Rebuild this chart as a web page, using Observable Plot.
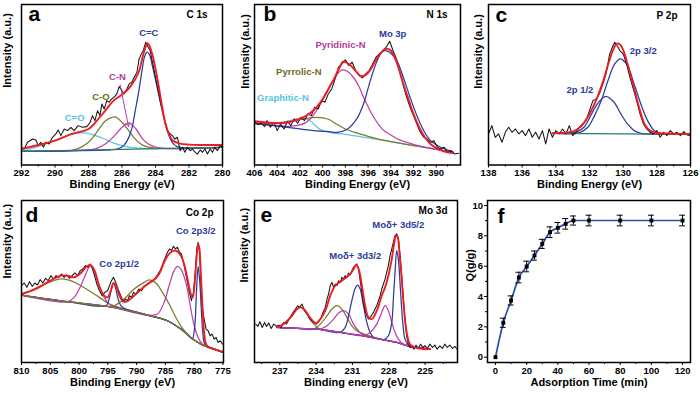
<!DOCTYPE html>
<html><head><meta charset="utf-8">
<script src="https://cdn.jsdelivr.net/npm/d3@7"></script>
<script src="https://cdn.jsdelivr.net/npm/@observablehq/plot@0.6"></script>
<style>
body{margin:0;background:#fff}
#root{position:relative;width:700px;height:395px;overflow:hidden;background:#fff}
#root svg{position:absolute}
</style></head><body><div id="root"></div>
<script>
// ---------------- Panel a: C 1s ----------------
const aRaw = [[292.00,53],[291.84,48],[291.64,68],[291.34,78],[291.14,75],[291.00,58],[290.85,68],[290.69,53],[290.55,68],[290.35,63],[290.15,83],[289.95,93],[289.81,105],[289.65,88],[289.45,108],[289.25,103],[289.05,113],[288.86,103],[288.62,118],[288.36,113],[288.10,115],[287.90,128],[287.76,148],[287.62,133],[287.46,163],[287.32,148],[287.20,183],[287.06,168],[286.91,193],[286.77,188],[286.61,198],[286.47,203],[286.31,213],[286.17,235],[286.03,225],[285.87,213],[285.71,228],[285.57,243],[285.41,248],[285.27,263],[285.11,278],[284.98,318],[284.84,333],[284.72,345],[284.58,368],[284.44,353],[284.32,343],[284.18,308],[284.04,273],[283.88,233],[283.72,193],[283.58,163],[283.44,133],[283.28,103],[283.12,93],[282.99,88],[282.85,78],[282.69,83],[282.53,43],[282.39,53],[282.25,38],[282.09,53],[281.93,43],[281.79,48],[281.63,38],[281.49,33],[281.33,45],[281.19,38],[281.05,48],[280.90,33],[280.74,48],[280.60,38],[280.46,53],[280.30,43],[280.14,58],[280.00,53]];
const aFit = [[292,48],[291,60],[290,73],[289,93],[288,108],[287.5,133],[287,163],[286.5,193],[286,211],[285.5,235],[285,278],[284.8,318],[284.6,353],[284.5,365],[284.4,361],[284.2,333],[284,288],[283.8,233],[283.6,173],[283.4,123],[283.2,93],[283,75],[282.6,65],[282,61],[281,60],[280,60]];
const aBase = [[292,41],[280,53]];
const aCdO = [[291.5,48],[291,56],[290.5,65],[290,74],[289.5,84],[289,92],[288.4,96],[287.8,92],[287.2,81],[286.6,68],[286,58],[285.4,52],[284.8,50],[284,49],[283,50]];
const aCO = [[289,44],[288.5,52],[288,68],[287.6,92],[287.3,113],[287,132],[286.6,143],[286.4,144],[286,128],[285.6,103],[285.3,83],[285,68],[284.7,58],[284.1,51]];
const aCN = [[288,45],[287.5,50],[287,63],[286.5,85],[286,113],[285.6,126],[285.2,110],[284.8,80],[284.4,62],[284,54],[283.5,50]];
const aCC = [[286.6,46],[286.2,49],[285.9,58],[285.6,82],[285.4,112],[285.2,165],[285,220],[284.8,285],[284.65,325],[284.5,338],[284.35,330],[284.2,300],[283.9,233],[283.6,163],[283.3,103],[283,68],[282.7,55],[282.3,52]];
const aTicks = [292,290,288,286,284,282,280];
const aMinor = [291,289,287,285,283,281];
const aLabelText = ["C=C","C-N","C-O","C=O"];
const aLabelX = [284.4,286.27,287.26,288.82];
const aLabelY = [388,255,196,133];
const aArrow = [{x1:286.11,y1:240,x2:285.61,y2:115}];

// ---------------- Panel b: N 1s ----------------
const bRaw = [[406,128],[405.7,121],[405.4,125],[405.1,115],[404.9,133],[404.6,113],[404.3,128],[404,103],[403.7,123],[403.4,108],[403.1,131],[402.8,118],[402.5,138],[402.2,125],[401.9,143],[401.6,133],[401.3,153],[401,148],[400.7,173],[400.4,168],[400.1,193],[399.8,188],[399.5,213],[399.2,228],[398.9,258],[398.6,293],[398.3,303],[398,315],[397.7,298],[397.4,308],[397.1,283],[396.8,268],[396.5,261],[396.2,273],[395.9,283],[395.6,303],[395.3,323],[395,333],[394.7,343],[394.4,353],[394.1,371],[393.8,343],[393.5,318],[393.2,278],[392.9,238],[392.6,203],[392.3,173],[392,148],[391.7,123],[391.4,98],[391.1,83],[390.8,78],[390.5,68],[390.2,73],[389.9,53],[389.6,48],[389.3,53],[389,38],[388.7,43],[388.4,33],[388,35]];
const bFit = [[406,131],[404,125],[403,128],[402,138],[401,158],[400.5,175],[400,198],[399.5,228],[399,258],[398.5,293],[398.2,310],[397.9,307],[397.5,297],[397,278],[396.6,266],[396.2,270],[395.8,285],[395.4,310],[395,330],[394.6,345],[394.3,348],[394,343],[393.6,318],[393.2,278],[392.8,233],[392.4,193],[392,153],[391.5,113],[391,83],[390.5,63],[390,51],[389.5,43],[389,38],[388.6,36]];
const bBase = [[406,125],[402,108],[398,92],[394,70],[390,47],[388.5,38]];
const bGraphitic = [[406,127],[404,126],[403,132],[402.3,139],[401.8,141],[401.2,135],[400.6,117],[400.2,106],[399.6,99],[399,95]];
const bPyrrolic = [[406,125],[403.5,128],[402.5,133],[401.5,139],[400.5,143],[399.5,137],[398.8,123],[398,108],[397,96],[396,86],[395,77]];
const bPyridinic = [[403,116],[402,120],[401.5,127],[401.1,138],[400.6,160],[400.2,183],[399.7,212],[399.3,238],[398.8,268],[398.4,283],[398.2,285],[397.8,280],[397.3,263],[396.8,235],[396.4,203],[395.9,168],[395.5,143],[395,118],[394.6,103],[394,90],[393.4,78],[392.5,67],[391.5,57]];
const bMo3p = [[400,101],[399.6,101],[398.7,98],[397.8,108],[397,138],[396.4,183],[395.8,253],[395.2,313],[394.8,338],[394.5,343],[394.1,338],[393.4,308],[392.9,263],[392.3,203],[391.7,148],[391.1,103],[390.5,73],[389.6,53],[388.8,43]];
const bTicks = [406,404,402,400,398,396,394,392,390];
const bMinor = [405,403,401,399,397,395,393,391,389];
const bLabelText = ["Mo 3p","Pyridinic-N","Pyrrolic-N","Graphitic-N"];
const bLabelX = [393.83,398.43,402.1,403.5];
const bLabelY = [385,351,271,191];

// ---------------- Panel c: P 2p ----------------
const cRaw = [[138,93],[137.8,118],[137.6,83],[137.4,93],[137.2,68],[137,98],[136.8,113],[136.6,98],[136.4,108],[136.2,93],[136,103],[135.8,88],[135.6,108],[135.4,83],[135.2,98],[135,78],[134.8,103],[134.6,63],[134.4,108],[134.2,83],[134,103],[133.8,93],[133.6,108],[133.4,93],[133.2,118],[133,88],[132.8,98],[132.6,113],[132.4,123],[132.2,133],[132,163],[131.8,193],[131.6,198],[131.4,215],[131.2,243],[131,278],[130.8,333],[130.6,358],[130.5,368],[130.3,353],[130.2,343],[130,333],[129.8,303],[129.6,263],[129.4,228],[129.2,193],[129,153],[128.8,123],[128.6,108],[128.4,98],[128.2,93],[128,103],[127.8,83],[127.6,98],[127.4,88],[127.2,103],[127,93],[126.8,98],[126.6,88],[126.4,100],[126.2,90],[126,88]];
const cFit = [[134.2,95],[133.5,97],[133,100],[132.5,116],[132,153],[131.6,195],[131.2,250],[130.9,300],[130.6,345],[130.4,363],[130.2,362],[130,345],[129.8,313],[129.6,278],[129.3,220],[129,163],[128.7,120],[128.4,103],[128,96],[127,94],[126,93]];
const cBase = [[134.2,95],[126,92]];
const c2p12 = [[133.2,96],[132.73,100],[132.33,113],[131.93,148],[131.53,183],[131.03,206],[130.54,188],[130.14,153],[129.74,123],[129.34,103],[128.95,95],[128.4,93]];
const c2p32 = [[132.6,97],[132.1,113],[131.7,148],[131.3,193],[130.9,253],[130.5,303],[130.15,318],[129.75,298],[129.35,243],[128.95,183],[128.55,133],[128.15,103],[127.75,95],[127.2,93]];
const cTicks = [138,136,134,132,130,128,126];
const cMinor = [137,135,133,131,129,127];
const cLabelText = ["2p 3/2","2p 1/2"];
const cLabelX = [128.81,132.57];
const cLabelY = [333,215];

// ---------------- Panel d: Co 2p ----------------
const dRaw = [[810,230],[809.54,238],[809.07,225],[808.61,242],[808.15,228],[807.68,238],[807.22,232],[806.76,248],[806.29,238],[805.83,252],[805.37,245],[804.9,260],[804.44,250],[803.98,260],[803.51,255],[803.05,265],[802.59,255],[802.13,262],[801.66,252],[801.2,260],[800.74,268],[800.27,260],[799.81,275],[799.35,280],[798.88,290],[798.42,285],[798.07,295],[797.72,282],[797.38,265],[796.91,235],[796.45,215],[795.99,200],[795.52,210],[795.06,215],[794.71,230],[794.37,245],[794.02,255],[793.67,242],[793.32,225],[792.98,210],[792.63,195],[792.28,182],[791.93,190],[791.59,185],[791.24,200],[790.89,195],[790.54,210],[790.08,205],[789.62,220],[789.15,215],[788.69,230],[788.23,232],[787.76,238],[787.3,245],[786.84,250],[786.38,262],[785.91,275],[785.45,295],[784.99,315],[784.64,330],[784.29,340],[783.94,335],[783.6,348],[783.25,340],[782.9,345],[782.55,330],[782.21,325],[781.86,300],[781.51,270],[781.16,240],[780.82,210],[780.47,185],[780.12,210],[779.77,280],[779.54,340],[779.31,360],[779.08,335],[778.85,250],[778.62,170],[778.27,130],[777.92,100],[777.57,95],[777.23,80],[776.88,85],[776.53,70],[776.18,75],[775.84,60],[775.49,65],[775.08,55]];
const dFit = [[810,205],[807.8,218],[805.48,240],[803.17,260],[802.01,260],[800.85,255],[799.69,268],[798.82,285],[798.07,292],[797.38,278],[796.51,230],[795.64,200],[795.06,195],[794.48,215],[794.02,238],[793.56,230],[792.98,200],[792.28,182],[791.59,184],[790.43,200],[789.27,218],[788.11,235],[786.95,248],[786.09,265],[785.22,300],[784.35,325],[783.48,335],[782.9,332],[782.32,320],[781.74,295],[781.16,250],[780.58,205],[780.24,195],[779.89,240],[779.6,310],[779.31,355],[779.08,340],[778.85,270],[778.56,170],[778.27,90],[777.92,55],[777.4,45],[776.53,40],[774.91,32]];
const dBase = [[810,202],[802.01,182],[795.06,168],[788.11,142],[784.64,125],[782.32,100],[780.58,75],[778.85,55],[776.53,40],[774.91,30]];
const dSat1 = [[810,202],[807.8,220],[805.48,238],[803.17,250],[801.43,245],[799.69,230],[797.96,212],[796.22,192],[795.06,178],[793.9,170],[792.74,163]];
const dCo12a = [[802.01,182],[800.85,195],[799.69,230],[798.82,265],[798.07,290],[797.38,275],[796.51,230],[795.64,195],[794.77,175],[793.9,168]];
const dCo12b = [[795.35,170],[794.77,190],[794.37,220],[794.02,238],[793.61,220],[793.21,190],[792.74,170],[792.17,162]];
const dSat2 = [[793.9,170],[792.17,190],[790.43,220],[788.69,240],[787.82,247],[786.66,238],[785.51,210],[784.35,175],[783.19,135],[782.03,102]];
const dCo32a = [[788.11,142],[786.38,145],[785.22,180],[784.35,230],[783.48,275],[782.9,288],[782.32,280],[781.45,240],[780.87,190],[780.12,120],[779.31,75],[778.56,55]];
const dCo32b = [[780.3,70],[779.89,110],[779.6,210],[779.31,287],[779.02,240],[778.73,150],[778.44,80],[778.15,55]];
const dTicks = [810,805,800,795,790,785,780,775];
const dMinor = [807.5,802.5,797.5,792.5,787.5,782.5,777.5];
const dLabelText = ["Co 2p3/2","Co 2p1/2"];
const dLabelX = [779.72,793.03];
const dLabelY = [385,287];

// ---------------- Panel e: Mo 3d ----------------
const eRaw = [[239.0,115],[238.81,108],[238.65,122],[238.45,105],[238.26,120],[238.1,108],[237.91,118],[237.71,102],[237.49,115],[237.27,108],[237.08,112],[236.89,105],[236.67,120],[236.45,115],[236.26,128],[236.07,140],[235.9,150],[235.71,160],[235.52,170],[235.35,165],[235.16,175],[234.97,155],[234.75,145],[234.53,130],[234.34,122],[234.15,118],[233.98,115],[233.79,125],[233.6,132],[233.43,150],[233.24,165],[233.1,190],[232.97,205],[232.83,230],[232.69,240],[232.56,225],[232.42,235],[232.28,230],[232.14,245],[232.01,240],[231.87,255],[231.73,250],[231.6,260],[231.46,255],[231.32,268],[231.18,262],[231.05,275],[230.91,285],[230.77,290],[230.64,295],[230.5,280],[230.36,245],[230.22,210],[230.09,180],[229.95,155],[229.81,140],[229.68,130],[229.54,135],[229.4,142],[229.26,150],[229.13,160],[228.99,170],[228.85,185],[228.71,200],[228.58,220],[228.44,235],[228.3,250],[228.17,270],[228.03,290],[227.89,320],[227.75,340],[227.62,360],[227.48,380],[227.34,385],[227.21,370],[227.07,325],[226.93,260],[226.79,190],[226.66,130],[226.52,80],[226.38,55],[226.25,45],[226.11,50],[225.92,40],[225.75,52],[225.56,42],[225.37,55],[225.2,45],[225.01,50],[224.82,42],[224.6,55],[224.38,45],[224.19,52],[224.0,40],[223.78,50],[223.56,42],[223.37,55],[223.17,45],[222.95,52],[222.73,42],[222.54,48],[222.35,40]];
const eFit = [[237.22,105],[236.67,115],[236.12,135],[235.71,155],[235.35,165],[235.02,160],[234.61,140],[234.2,122],[233.98,118],[233.65,130],[233.24,155],[232.83,200],[232.42,230],[232.01,242],[231.6,252],[231.18,265],[230.91,280],[230.69,292],[230.5,282],[230.22,230],[229.95,170],[229.68,135],[229.4,130],[228.99,155],[228.58,200],[228.3,225],[228.03,260],[227.75,310],[227.56,355],[227.4,380],[227.26,375],[227.12,330],[226.93,250],[226.74,160],[226.52,90],[226.25,55],[225.83,45],[225.15,40],[224.6,40]];
const eBase = [[237.22,105],[235.57,102],[233.93,100],[232.01,90],[230.09,80],[228.71,70],[227.34,60],[226.25,48],[225.15,42],[224.6,40]];
const eSatA = [[237.22,105],[236.53,120],[235.98,140],[235.57,160],[235.3,165],[234.97,158],[234.48,130],[234.06,110],[233.79,102]];
const eSatB = [[234.2,100],[233.65,115],[233.1,140],[232.69,160],[232.28,170],[231.87,160],[231.46,135],[231.05,110],[230.64,95],[230.22,88],[229.81,82]];
const eMagA = [[233.65,100],[233.1,110],[232.56,130],[232.14,148],[231.73,155],[231.32,145],[230.91,115],[230.5,95],[230.09,82]];
const eMo32 = [[232.01,90],[231.6,105],[231.32,140],[231.05,185],[230.77,222],[230.58,232],[230.36,220],[230.09,170],[229.81,120],[229.54,90],[229.26,75],[228.99,72]];
const eMagB = [[230.09,80],[229.54,90],[228.99,115],[228.58,150],[228.3,170],[228.03,155],[227.75,120],[227.48,90],[227.21,70],[226.79,55],[226.25,48]];
const eMo52 = [[228.44,68],[228.03,80],[227.75,120],[227.62,190],[227.48,270],[227.34,335],[227.21,310],[227.07,240],[226.93,160],[226.79,100],[226.66,70],[226.38,52]];
const eTicks = [237,234,231,228,225];
const eMinor = [238.5,235.5,232.5,229.5,226.5,223.5];
const eLabelText = ["Moδ+ 3d5/2","Moδ+ 3d3/2"];
const eLabelX = [227.21,230.77];
const eLabelY = [402,310];

// ---------------- Panel f: adsorption ----------------
const fTime = [0,5,10,15,20,25,30,35,40,45,50,60,80,100,120];
const fQ = [0,2.27,3.74,5.25,5.98,6.70,7.47,8.24,8.53,8.79,9.01,9.01,9.01,9.01,9.01];
const fErr = [0,0.3,0.3,0.35,0.35,0.3,0.3,0.35,0.35,0.35,0.3,0.35,0.35,0.35,0.35];
const fXTicks = [0,20,40,60,80,100,120];
const fXMinor = [10,30,50,70,90,110];
const fYTicks = [0,2,4,6,8,10];
const fYMinor = [1,3,5,7,9];

// ---------------- styling & helpers ----------------
const FONT = "'Liberation Sans', Arial, Helvetica, sans-serif";
const COL = {black:"#141414", red:"#ee1c24", blue:"#2c3c9c", mag:"#c03ea6", olive:"#7c7a2c", cyan:"#5cc6e2", teal:"#2a7a74",
  tBlue:"#2c3c9c", tMag:"#b53a9c", tOlive:"#6e6c22", tCyan:"#58c3e2", fBlue:"#2b4db0"};
const X = d => d[0], Y = d => d[1];
const root = document.getElementById("root");

function onBase(peak, base) {
  const lo = d3.min(peak, X), hi = d3.max(peak, X);
  return base.filter(d => d[0] < lo || d[0] > hi).concat(peak).sort((a, b) => a[0] - b[0]);
}

function place(svg, left, top) {
  svg.style.left = left + "px";
  svg.style.top = top + "px";
  root.appendChild(svg);
}

function commonText(p) {
  return [
    Plot.text([p.letter], {text: d => d, frameAnchor: "top-left", dx: p.letterPos[0], dy: p.letterPos[1], textAnchor: "start", lineAnchor: "bottom", fontSize: 21, fontWeight: "bold", fill: "black"}),
    Plot.text([p.yLabel], {text: d => d, frameAnchor: "left", rotate: -90, dx: p.yLabelPos[0], dy: p.yLabelPos[1], fontSize: 11, fontWeight: "bold", fill: "black"}),
    Plot.text([p.xLabel], {text: d => d, frameAnchor: "bottom", dy: p.xLabelDy, fontSize: 11, fontWeight: "bold", fill: "black"})
  ];
}

function xps(p) {
  const marks = [];
  for (const c of p.comps) {
    marks.push(Plot.line(onBase(c.data, p.base), {x: X, y: Y, stroke: c.color, strokeWidth: 1.25, curve: "catmull-rom", clip: true}));
  }
  if (p.baseColor) marks.push(Plot.line(p.base, {x: X, y: Y, stroke: p.baseColor, strokeWidth: 1.25, curve: "catmull-rom", clip: true}));
  marks.push(Plot.line(p.raw, {x: X, y: Y, stroke: COL.black, strokeWidth: 1.05, clip: true}));
  marks.push(Plot.line(p.fit, {x: X, y: Y, stroke: COL.red, strokeWidth: 1.9, curve: "catmull-rom", clip: true}));
  if (p.arrow) marks.push(Plot.arrow(p.arrow, {x1: "x1", y1: "y1", x2: "x2", y2: "y2", stroke: COL.mag, strokeWidth: 1, headLength: 6}));
  p.labelText.forEach((t, i) => {
    marks.push(Plot.text([t], {x: () => p.labelX[i], y: () => p.labelY[i], text: d => d, fill: p.labelColors[i], fontSize: 9.5, fontWeight: "bold", lineAnchor: "bottom"}));
  });
  marks.push(Plot.axisX({ticks: p.ticks, tickSize: 3, tickPadding: 1.5, tickFormat: d => d, fontSize: 9.5, label: null}));
  marks.push(Plot.axisX({ticks: p.minor, tickSize: 2, tickFormat: () => "", label: null}));
  marks.push(Plot.frame({stroke: "black", strokeWidth: 1.5}));
  marks.push(Plot.text([p.title], {text: d => d, frameAnchor: "top-right", dx: p.titlePos[0], dy: p.titlePos[1], textAnchor: "end", lineAnchor: "bottom", fontSize: 10, fontWeight: "bold", fill: "black"}));
  marks.push(...commonText(p));
  const svg = Plot.plot({
    width: p.width, height: p.height,
    marginLeft: p.m[0], marginRight: p.m[1], marginTop: p.m[2], marginBottom: p.m[3],
    x: {domain: p.xDomain},
    y: {domain: p.yDomain, axis: null},
    style: {fontFamily: FONT, fontWeight: "bold", fontSize: "9.5px", color: "black", background: "transparent", overflow: "visible"},
    marks
  });
  place(svg, p.left, p.top);
}

// ---------------- panels ----------------
xps({left: 0, top: 0, width: 230, height: 195, m: [21, 8, 4, 30.5],
  xDomain: [292, 280], yDomain: [0, 481], raw: aRaw, fit: aFit, base: aBase, baseColor: COL.teal,
  comps: [{data: aCdO, color: COL.cyan}, {data: aCO, color: COL.olive}, {data: aCN, color: COL.mag}, {data: aCC, color: COL.blue}],
  labelText: aLabelText, labelX: aLabelX, labelY: aLabelY, labelColors: [COL.tBlue, COL.tMag, COL.tOlive, COL.tCyan],
  arrow: aArrow, ticks: aTicks, minor: aMinor,
  letter: "a", letterPos: [7, 16.5], title: "C 1s", titlePos: [-15, 13.5],
  yLabel: "Intensity (a.u.)", yLabelPos: [-13.7, 3], xLabel: "Binding Energy (eV)", xLabelDy: 22.5});

xps({left: 230, top: 0, width: 235, height: 195, m: [24, 5, 4, 30.5],
  xDomain: [406, 387.86], yDomain: [0, 481], raw: bRaw, fit: bFit, base: bBase, baseColor: null,
  comps: [{data: bGraphitic, color: COL.cyan}, {data: bPyrrolic, color: COL.olive}, {data: bPyridinic, color: COL.mag}, {data: bMo3p, color: COL.blue}],
  labelText: bLabelText, labelX: bLabelX, labelY: bLabelY, labelColors: [COL.tBlue, COL.tMag, COL.tOlive, COL.tCyan],
  ticks: bTicks, minor: bMinor,
  letter: "b", letterPos: [9, 16.5], title: "N 1s", titlePos: [-13, 13],
  yLabel: "Intensity (a.u.)", yLabelPos: [-9, 4], xLabel: "Binding Energy (eV)", xLabelDy: 22.5});

xps({left: 465, top: 0, width: 235, height: 195, m: [23, 10, 4, 30.5],
  xDomain: [138, 126], yDomain: [0, 481], raw: cRaw, fit: cFit, base: cBase, baseColor: COL.teal,
  comps: [{data: c2p12, color: COL.blue}, {data: c2p32, color: COL.blue}],
  labelText: cLabelText, labelX: cLabelX, labelY: cLabelY, labelColors: [COL.tBlue, COL.tBlue],
  ticks: cTicks, minor: cMinor,
  letter: "c", letterPos: [7, 17], title: "P 2p", titlePos: [-13, 14],
  yLabel: "Intensity (a.u.)", yLabelPos: [-10, 4], xLabel: "Binding Energy (eV)", xLabelDy: 22.5});

xps({left: 0, top: 195, width: 230, height: 200, m: [21, 7, 5, 33],
  xDomain: [810, 774.9], yDomain: [0, 485], raw: dRaw, fit: dFit, base: dBase, baseColor: COL.olive,
  comps: [{data: dSat1, color: COL.olive}, {data: dCo12a, color: COL.mag}, {data: dCo12b, color: COL.blue}, {data: dSat2, color: COL.olive}, {data: dCo32a, color: COL.mag}, {data: dCo32b, color: COL.blue}],
  labelText: dLabelText, labelX: dLabelX, labelY: dLabelY, labelColors: [COL.tBlue, COL.tBlue],
  ticks: dTicks, minor: dMinor,
  letter: "d", letterPos: [4, 21.5], title: "Co 2p", titlePos: [-10, 15],
  yLabel: "Intensity (a.u.)", yLabelPos: [-13.7, -3], xLabel: "Binding Energy (eV)", xLabelDy: 23});

xps({left: 230, top: 195, width: 235, height: 200, m: [24, 8, 5, 33],
  xDomain: [239.09, 222.32], yDomain: [0, 485], raw: eRaw, fit: eFit, base: eBase, baseColor: COL.mag,
  comps: [{data: eSatA, color: COL.olive}, {data: eSatB, color: COL.olive}, {data: eMagA, color: COL.mag}, {data: eMo32, color: COL.blue}, {data: eMagB, color: COL.mag}, {data: eMo52, color: COL.blue}],
  labelText: eLabelText, labelX: eLabelX, labelY: eLabelY, labelColors: [COL.tBlue, COL.tBlue],
  ticks: eTicks, minor: eMinor,
  letter: "e", letterPos: [6, 21], title: "Mo 3d", titlePos: [-10, 13],
  yLabel: "Intensity (a.u.)", yLabelPos: [-10, 1], xLabel: "Binding energy (eV)", xLabelDy: 23});

// panel f
{
  const fData = fTime.map((t, i) => ({t, q: fQ[i], e: fErr[i]}));
  const fBars = fData.filter(d => d.e > 0);
  const svg = Plot.plot({
    width: 235, height: 200, marginLeft: 22, marginRight: 10, marginTop: 5, marginBottom: 33,
    x: {domain: [-5.13, 125.1]},
    y: {domain: [-0.35, 10.33]},
    style: {fontFamily: FONT, fontWeight: "bold", fontSize: "9.5px", color: "black", background: "transparent", overflow: "visible"},
    marks: [
      Plot.line(fData, {x: "t", y: "q", stroke: COL.fBlue, strokeWidth: 1.7, curve: "monotone-x"}),
      Plot.ruleX(fBars, {x: "t", y1: d => d.q - d.e, y2: d => d.q + d.e, stroke: "black", strokeWidth: 1}),
      Plot.ruleY(fBars, {y: d => d.q + d.e, x1: d => d.t - 1.9, x2: d => d.t + 1.9, stroke: "black", strokeWidth: 1}),
      Plot.ruleY(fBars, {y: d => d.q - d.e, x1: d => d.t - 1.9, x2: d => d.t + 1.9, stroke: "black", strokeWidth: 1}),
      Plot.dot(fData, {x: "t", y: "q", symbol: "square", r: 2.2, fill: "black", stroke: "none"}),
      Plot.axisX({ticks: fXTicks, tickSize: 3, tickPadding: 1.5, fontSize: 9.5, label: null}),
      Plot.axisX({ticks: fXMinor, tickSize: 2, tickFormat: () => "", label: null}),
      Plot.axisY({ticks: fYTicks, tickSize: 3, tickPadding: 1.5, fontSize: 9.5, label: null}),
      Plot.axisY({ticks: fYMinor, tickSize: 2, tickFormat: () => "", label: null}),
      Plot.frame({stroke: "black", strokeWidth: 1.5}),
      ...commonText({letter: "f", letterPos: [10, 22], yLabel: "Q(g/g)", yLabelPos: [-17, 0], xLabel: "Adsorption Time (min)", xLabelDy: 23})
    ]
  });
  place(svg, 465, 195);
}
</script></body></html>
